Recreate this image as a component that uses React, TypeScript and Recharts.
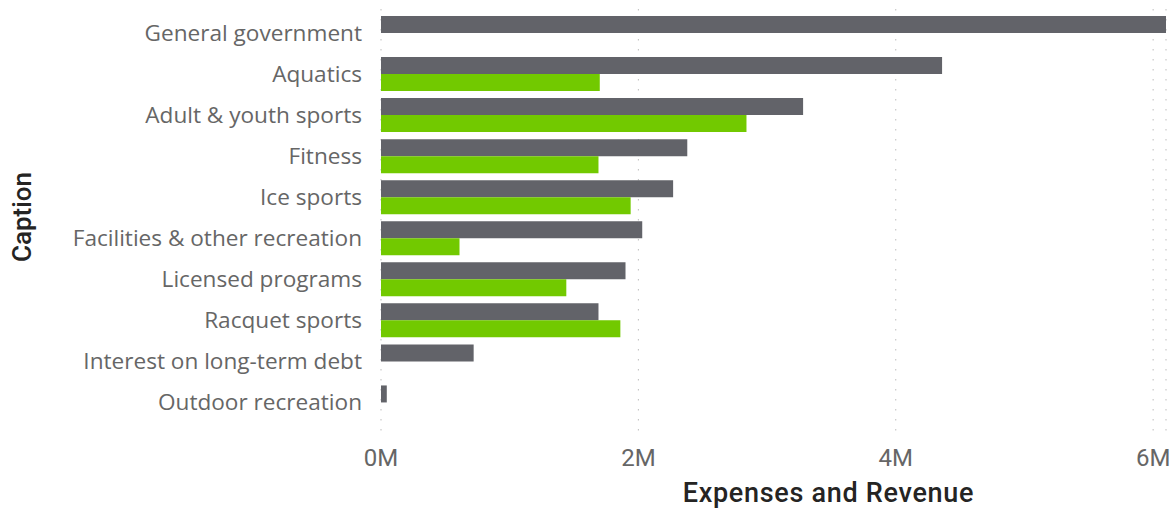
import React from 'react';
import { BarChart, Bar, XAxis, YAxis, CartesianGrid } from 'recharts';

const categories = [
  'General government',
  'Aquatics',
  'Adult & youth sports',
  'Fitness',
  'Ice sports',
  'Facilities & other recreation',
  'Licensed programs',
  'Racquet sports',
  'Interest on long-term debt',
  'Outdoor recreation',
];
const expenses = [6100000, 4360000, 3280000, 2380000, 2270000, 2030000, 1900000, 1690000, 720000, 45000];
const revenue = [null, 1700000, 2840000, 1690000, 1940000, 610000, 1440000, 1860000, null, null];
const xTicks = [0, 2000000, 4000000, 6000000];
const tickLabels = ['0M', '2M', '4M', '6M'];

const data = categories.map((name, i) => ({ name, expenses: expenses[i], revenue: revenue[i] }));

const fmt = (v: number) => tickLabels[xTicks.indexOf(v)] ?? `${v / 1e6}M`;

export default function App() {
  return (
    <div style={{ position: 'absolute', left: 0, top: 0, width: 1175, height: 510, background: '#fff' }}>
      <BarChart
        width={1175}
        height={510}
        data={data}
        layout="vertical"
        margin={{ top: 9, right: 9, bottom: 0, left: 0 }}
        barCategoryGap={4}
        barGap={0}
      >
        <CartesianGrid horizontal={false} stroke="#bdbdbd" strokeDasharray="1.5 8.5" />
        <XAxis
          type="number"
          domain={[0, 6100000]}
          ticks={xTicks}
          tickFormatter={fmt}
          height={73}
          axisLine={false}
          tickLine={false}
          tickSize={0}
          tickMargin={12}
          tick={{ fill: '#666666', fontSize: 24, fontFamily: 'Roboto' }}
          label={{
            value: 'Expenses and Revenue',
            position: 'insideBottom',
            offset: 8,
            dx: 55,
            fill: '#252423',
            fontSize: 27,
            fontWeight: 500,
            fontFamily: 'Roboto',
            letterSpacing: 0.7,
          }}
        />
        <YAxis
          type="category"
          dataKey="name"
          width={381}
          axisLine={false}
          tickLine={false}
          tickSize={0}
          tickMargin={19}
          padding={{ top: 3, bottom: 14.5 }}
          interval={0}
          tick={{ fill: '#666666', fontSize: 22.6, fontFamily: 'Open Sans' }}
          label={{
            content: () => (
              <text
                x={31}
                y={217}
                transform="rotate(-90, 31, 217)"
                textAnchor="middle"
                fill="#252423"
                fontSize={26}
                fontWeight={500}
                fontFamily="Roboto"
              >
                Caption
              </text>
            ),
          }}
        />
        <Bar dataKey="expenses" fill="#626369" isAnimationActive={false} />
        <Bar dataKey="revenue" fill="#72c900" isAnimationActive={false} />
      </BarChart>
    </div>
  );
}
